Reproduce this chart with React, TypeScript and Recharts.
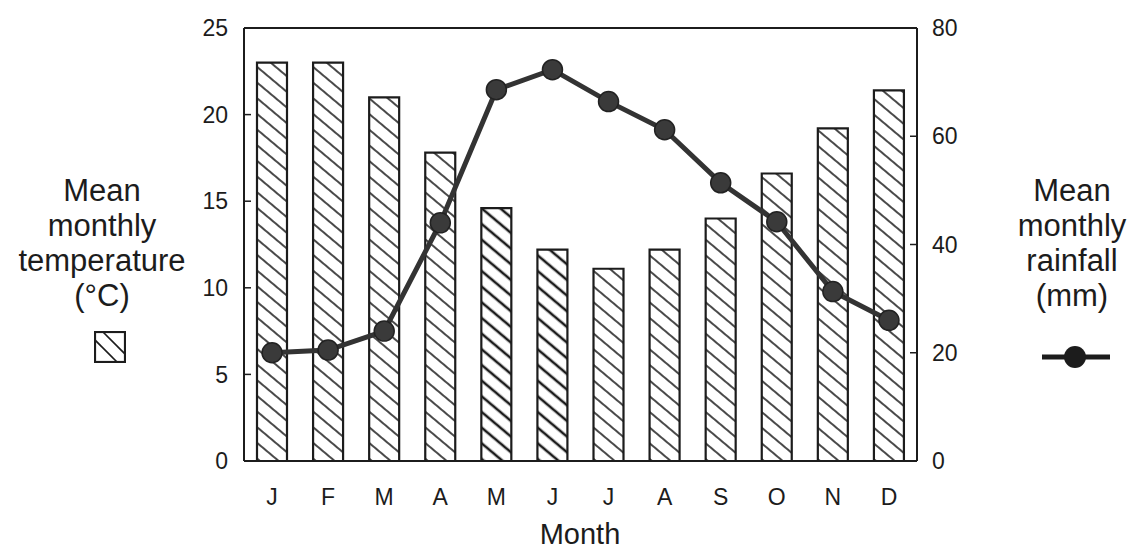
import { ComposedChart, Bar, Line, XAxis, YAxis, ReferenceLine, Cell } from 'recharts';

const months = ['J', 'F', 'M', 'A', 'M', 'J', 'J', 'A', 'S', 'O', 'N', 'D'];
const temperature = [23, 23, 21, 17.8, 14.6, 12.2, 11.1, 12.2, 14, 16.6, 19.2, 21.4];
const rainfall = [20, 20.5, 24, 44, 68.6, 72.3, 66.4, 61.2, 51.4, 44.2, 31.3, 26];
// May and June are printed with a heavier hatch in the original
const heavyHatch = [4, 5];
const tempTicks = [0, 5, 10, 15, 20, 25];
const rainTicks = [0, 20, 40, 60, 80];

const FONT = '"Liberation Sans", Arial, Helvetica, sans-serif';
const INK = '#1c1c1c';

const data = months.map((m, i) => ({ idx: i, month: m, temp: temperature[i], rain: rainfall[i] }));

const sideLabel = (lines: string[], left: number) => (
  <div
    style={{
      position: 'absolute',
      left,
      top: 173,
      width: 200,
      textAlign: 'center',
      fontFamily: FONT,
      fontSize: 31,
      lineHeight: '35px',
      color: INK,
    }}
  >
    {lines.map((l) => (
      <div key={l}>{l}</div>
    ))}
  </div>
);

export default function App() {
  return (
    <div style={{ position: 'absolute', left: 0, top: 0, width: 1141, height: 556, background: '#fff' }}>
      <ComposedChart width={1141} height={556} data={data} margin={{ top: 28, right: 0, bottom: 0, left: 0 }} barSize={30}>
        <defs>
          <pattern id="hatch" patternUnits="userSpaceOnUse" width="12" height="12" patternTransform="rotate(40)">
            <rect width="12" height="12" fill="#fff" />
            <line x1="0" y1="6" x2="12" y2="6" stroke={INK} strokeWidth="1.6" />
          </pattern>
          <pattern id="hatchHeavy" patternUnits="userSpaceOnUse" width="12" height="12" patternTransform="rotate(40)">
            <rect width="12" height="12" fill="#fff" />
            <line x1="0" y1="6" x2="12" y2="6" stroke={INK} strokeWidth="2.6" />
          </pattern>
        </defs>
        <XAxis
          dataKey="idx"
          height={95}
          tickFormatter={(i: number) => months[i]}
          tickLine={false}
          tickSize={0}
          tickMargin={28}
          axisLine={{ stroke: INK, strokeWidth: 2 }}
          tick={{ fill: INK, fontSize: 23, fontFamily: FONT }}
          interval={0}
        />
        <YAxis
          yAxisId="left"
          width={244}
          domain={[0, 25]}
          ticks={tempTicks}
          tickSize={-7}
          tickMargin={23}
          axisLine={{ stroke: INK, strokeWidth: 2 }}
          tickLine={{ stroke: INK, strokeWidth: 1.5 }}
          tick={{ fill: INK, fontSize: 23, fontFamily: FONT }}
        />
        <YAxis
          yAxisId="right"
          orientation="right"
          width={224}
          domain={[0, 80]}
          ticks={rainTicks}
          tickSize={-7}
          tickMargin={22}
          axisLine={{ stroke: INK, strokeWidth: 2 }}
          tickLine={{ stroke: INK, strokeWidth: 1.5 }}
          tick={{ fill: INK, fontSize: 23, fontFamily: FONT, textAnchor: 'start' }}
        />
        <ReferenceLine yAxisId="left" y={25} stroke={INK} strokeWidth={2} />
        <Bar yAxisId="left" dataKey="temp" stroke={INK} strokeWidth={2.2} isAnimationActive={false}>
          {data.map((d) => (
            <Cell key={d.idx} fill={heavyHatch.includes(d.idx) ? 'url(#hatchHeavy)' : 'url(#hatch)'} />
          ))}
        </Bar>
        <Line
          yAxisId="right"
          dataKey="rain"
          type="linear"
          stroke="#333"
          strokeWidth={5}
          dot={{ r: 10, fill: '#3a3a3a', stroke: '#222', strokeWidth: 1.5 }}
          isAnimationActive={false}
        />
      </ComposedChart>

      <div
        style={{
          position: 'absolute',
          left: 480,
          top: 518,
          width: 200,
          textAlign: 'center',
          fontFamily: FONT,
          fontSize: 29,
          color: INK,
        }}
      >
        Month
      </div>

      {sideLabel(['Mean', 'monthly', 'temperature', '(°C)'], 2)}
      {sideLabel(['Mean', 'monthly', 'rainfall', '(mm)'], 972)}

      <svg style={{ position: 'absolute', left: 94, top: 331 }} width={32} height={32}>
        <defs>
          <clipPath id="legClip">
            <rect x="1" y="1" width="30" height="30" />
          </clipPath>
        </defs>
        <g clipPath="url(#legClip)">
          <line x1="-4" y1="4" x2="28" y2="36" stroke={INK} strokeWidth="1.6" />
          <line x1="4" y1="-4" x2="36" y2="28" stroke={INK} strokeWidth="1.6" />
        </g>
        <rect x="1" y="1" width="30" height="30" fill="none" stroke={INK} strokeWidth="2.2" />
      </svg>

      <svg style={{ position: 'absolute', left: 1040, top: 344 }} width={72} height={26}>
        <line x1="2" y1="13" x2="70" y2="13" stroke={INK} strokeWidth="5" />
        <circle cx="35" cy="13" r="11" fill={INK} />
      </svg>
    </div>
  );
}
